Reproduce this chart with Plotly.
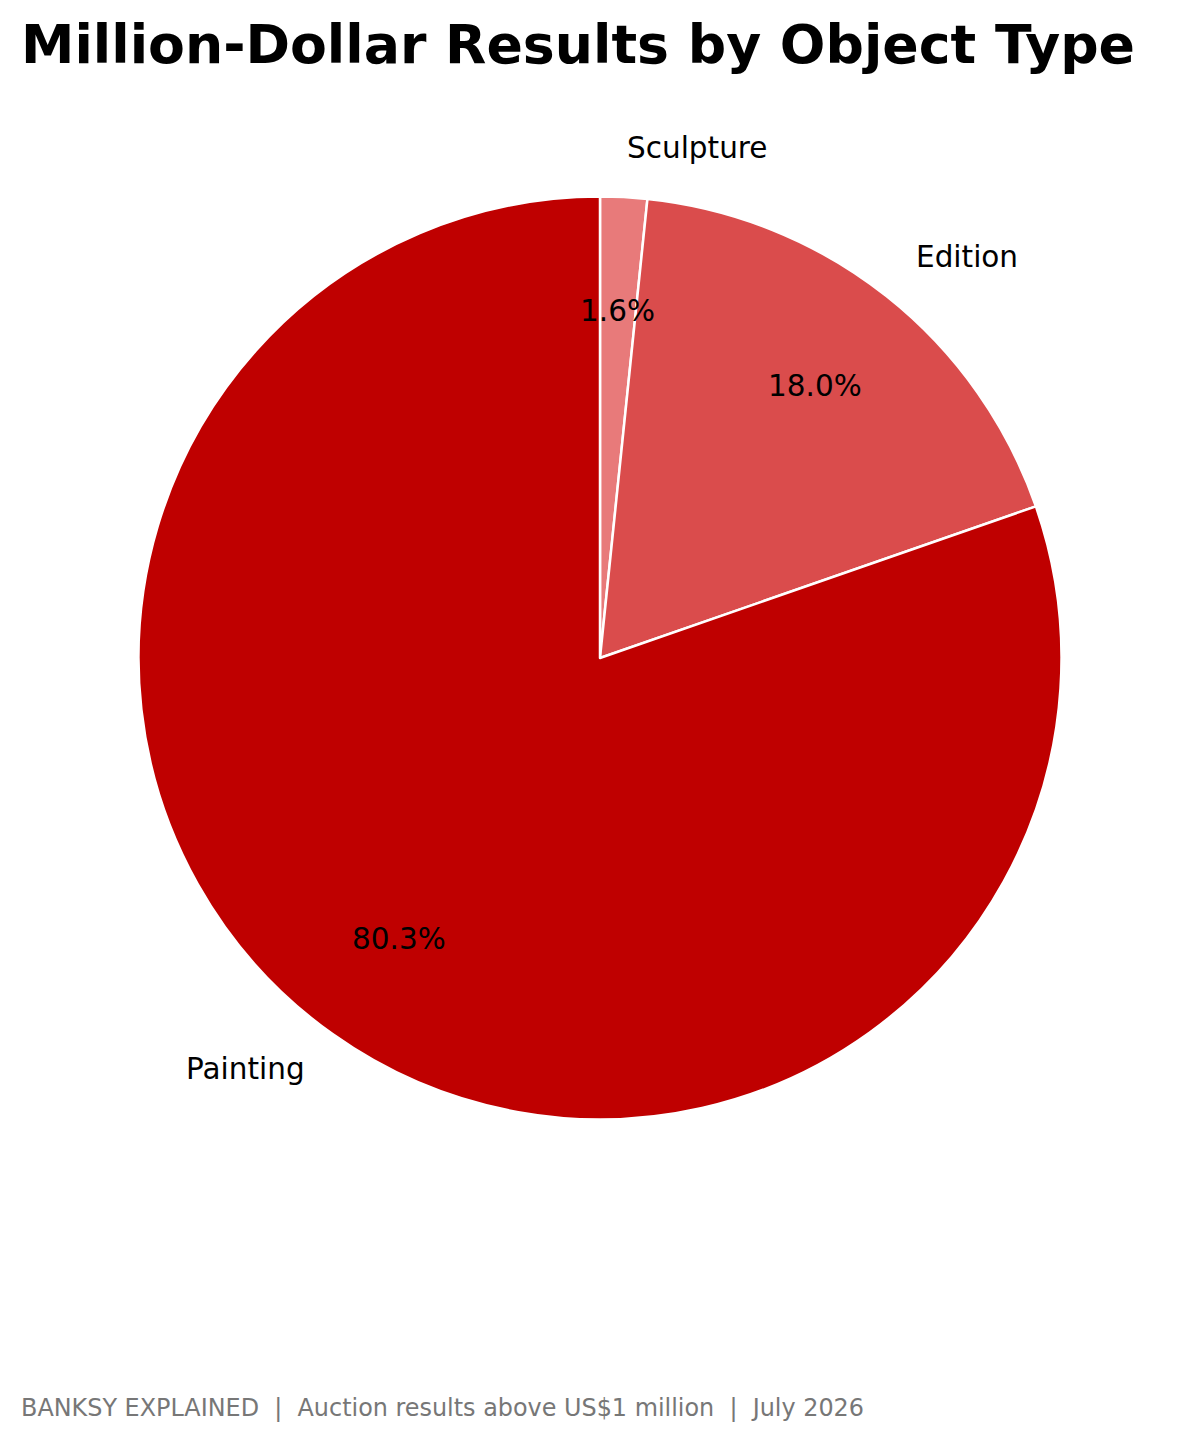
import numpy as np
import plotly.graph_objects as go

# ---- data ----
categories = ["Sculpture", "Edition", "Painting"]
counts = [1, 11, 49]
colors = ["#E87A7A", "#DA4C4C", "#BF0000"]

title_text = "Million-Dollar Results by Object Type"
footer_text = "BANKSY EXPLAINED  |  Auction results above US$1 million  |  July 2026"

W, H = 1200, 1444
OFF = 8                       # page body margin offset
CX, CY, R = 600 - OFF, 658 - OFF, 461.5  # pie centre / radius in pixels
FONT = "DejaVu Sans"

fig = go.Figure(go.Pie(
    labels=categories,
    values=counts,
    sort=False,
    direction="clockwise",
    rotation=0,
    marker=dict(colors=colors, line=dict(color="white", width=2.5)),
    textinfo="none",
    hoverinfo="label+percent",
    showlegend=False,
    domain=dict(x=[(CX - R) / W, (CX + R) / W],
                y=[1 - (CY + R) / H, 1 - (CY - R) / H]),
))

def px2paper(px, py):
    return px / W, 1 - py / H

annotations = []
vals = np.array(counts, dtype=float)
frac = vals / vals.sum()
cum = np.concatenate([[0], np.cumsum(frac)])
for i, name in enumerate(categories):
    mid = (cum[i] + cum[i + 1]) / 2 * 2 * np.pi  # clockwise from 12 o'clock
    sx, cy_ = np.sin(mid), np.cos(mid)
    pad = -1 if sx > 0 else 1
    lx, ly = px2paper(CX + 1.1 * R * sx + pad, CY - 1.1 * R * cy_ - 3)
    annotations.append(dict(
        x=lx, y=ly, xref="paper", yref="paper", text=name, showarrow=False,
        xanchor="left" if sx > 0 else "right", yanchor="middle",
        font=dict(family=FONT, size=29.5, color="black")))
    px_, py_ = px2paper(CX + 0.75 * R * sx, CY - 0.75 * R * cy_ - 1)
    annotations.append(dict(
        x=px_, y=py_, xref="paper", yref="paper",
        text=f"{frac[i] * 100:.1f}%", showarrow=False,
        xanchor="center", yanchor="middle",
        font=dict(family=FONT, size=29.5, color="black")))

annotations.append(dict(
    x=(22 - OFF - 3) / W, y=1 - 3 / H, xref="paper", yref="paper",
    text=f"<b>{title_text}</b>",
    showarrow=False, xanchor="left", yanchor="top",
    font=dict(family=FONT, size=53.7, color="black")))
annotations.append(dict(
    x=(22 - OFF - 3) / W, y=1 - (1408 - OFF) / H, xref="paper", yref="paper",
    text=footer_text,
    showarrow=False, xanchor="left", yanchor="middle",
    font=dict(family=FONT, size=23.9, color="#777777")))

fig.update_layout(
    width=W, height=H,
    margin=dict(l=0, r=0, t=0, b=0),
    paper_bgcolor="white", plot_bgcolor="white",
    annotations=annotations,
)

fig.write_html("out.html")
